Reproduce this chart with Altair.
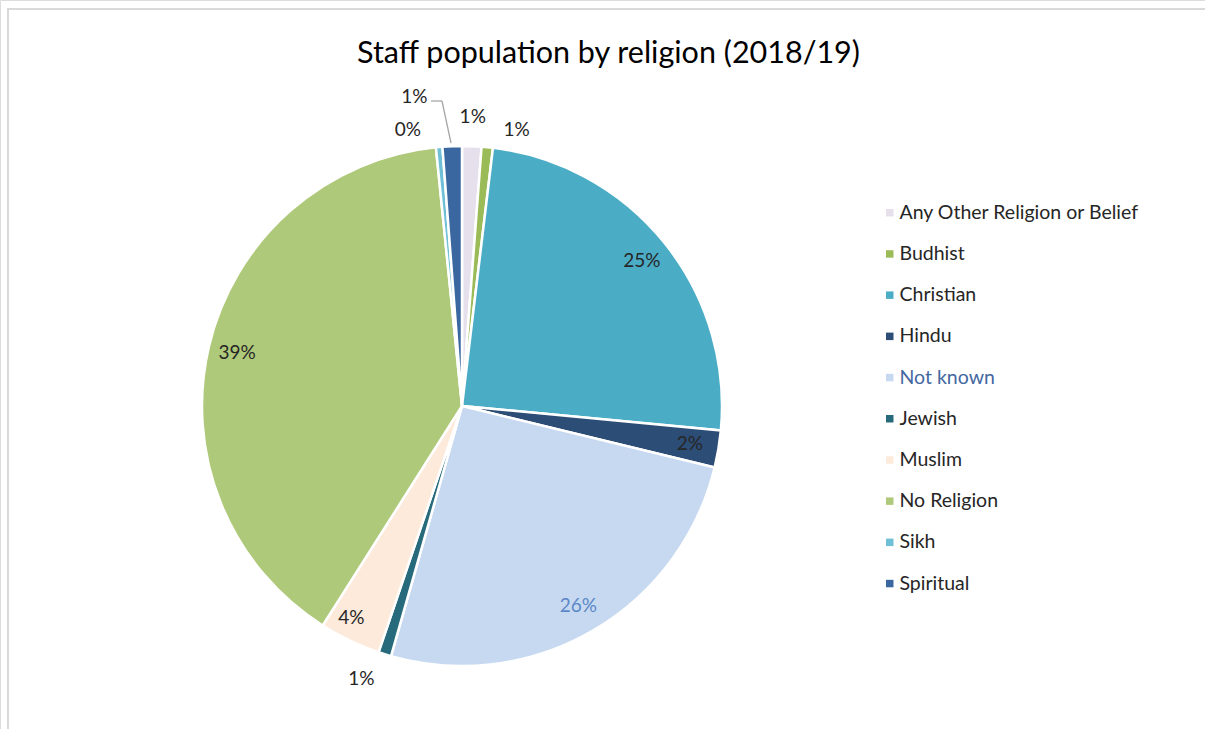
import altair as alt
import pandas as pd

religions = ["Any Other Religion or Belief", "Budhist", "Christian", "Hindu", "Not known",
             "Jewish", "Muslim", "No Religion", "Sikh", "Spiritual"]
percent = [1.2, 0.7, 24.6, 2.3, 25.6, 0.8, 3.8, 39.4, 0.4, 1.2]
colors = ["#E6E0EC", "#9BBB59", "#4BACC6", "#2C4D75", "#C6D9F1",
          "#276A7C", "#FDEADA", "#AFC97A", "#6FC0D6", "#3A67A0"]

df = pd.DataFrame({"religion": religions, "pct": percent, "idx": list(range(len(religions)))})

FONT = "Lato"
CX, CY, R = 462, 406, 260

base = alt.Chart(df).transform_calculate(
    label="format(datum.pct / 100, '.0%')"
)

theta = alt.Theta("pct:Q", stack=True, scale=alt.Scale(range=[0, 6.283185307]))
order = alt.Order("idx:Q", sort="ascending")

pie = base.mark_arc(outerRadius=R, stroke="white", strokeWidth=2.5).encode(
    x=alt.value(CX), y=alt.value(CY),
    theta=theta, order=order,
    color=alt.Color("religion:N",
                    scale=alt.Scale(domain=religions, range=colors),
                    legend=alt.Legend(
                        title=None, orient="none", legendX=880, legendY=203,
                        symbolType="square", symbolSize=56, symbolStrokeWidth=0,
                        labelFont=FONT, labelFontSize=19.5, rowPadding=20.2,
                        labelLimit=400, labelOffset=0,
                        labelColor=alt.ExprRef("datum.value == 'Not known' ? '#44689F' : '#262626'"))),
)

def label_layer(names, radius, dx=0, dy=0):
    cond = " || ".join(["datum.religion == '%s'" % n for n in names])
    return base.transform_calculate(
        shown="(" + cond + ") ? datum.label : ''"
    ).mark_text(radius=radius, font=FONT, fontSize=19, dx=dx, dy=dy,
                align="center", baseline="middle").encode(
        x=alt.value(CX), y=alt.value(CY),
        theta=theta, order=order,
        text="shown:N",
        color=alt.condition(alt.datum.religion == "Not known",
                            alt.value("#5B87C6"), alt.value("#262626")),
    )

inside = label_layer(["Christian", "Hindu", "Not known", "No Religion"], 231)
muslim = label_layer(["Muslim"], 231, dx=-11, dy=4)
other = label_layer(["Any Other Religion or Belief"], 285, dx=0, dy=-4)
budhist = label_layer(["Budhist"], 285, dx=27, dy=8)
jewish = label_layer(["Jewish"], 285, dx=-16, dy=1)
sikh = label_layer(["Sikh"], 285, dx=-29, dy=8)
spiritual = label_layer(["Spiritual"], 285, dx=-37, dy=-24)

frame_df = pd.DataFrame({"k": [0]})
frame = alt.Chart(frame_df).mark_rect(filled=False, stroke="#D9D9D9", strokeWidth=2).encode(
    x=alt.value(8), x2=alt.value(1230), y=alt.value(9), y2=alt.value(760)
)
leader1 = alt.Chart(frame_df).mark_rule(stroke="#A6A6A6", strokeWidth=1.3).encode(
    x=alt.value(431), x2=alt.value(442), y=alt.value(101), y2=alt.value(101)
)
leader2 = alt.Chart(frame_df).mark_rule(stroke="#A6A6A6", strokeWidth=1.3).encode(
    x=alt.value(442), x2=alt.value(451), y=alt.value(101), y2=alt.value(143)
)

chart = alt.layer(frame, pie, inside, muslim, other, budhist, jewish, sikh, spiritual,
                  leader1, leader2).properties(
    width=1205, height=729,
    autosize=alt.AutoSizeParams(type="none"),
    padding=0,
    title=alt.TitleParams("Staff population by religion (2018/19)", font=FONT, fontSize=30.5,
                          fontWeight="normal", color="#000000", anchor="middle",
                          baseline="alphabetic", offset=0, dy=93, dx=6),
).configure_view(stroke=None).configure(background="white")

chart.save("out.html", embed_options={"renderer": "svg", "actions": False})
